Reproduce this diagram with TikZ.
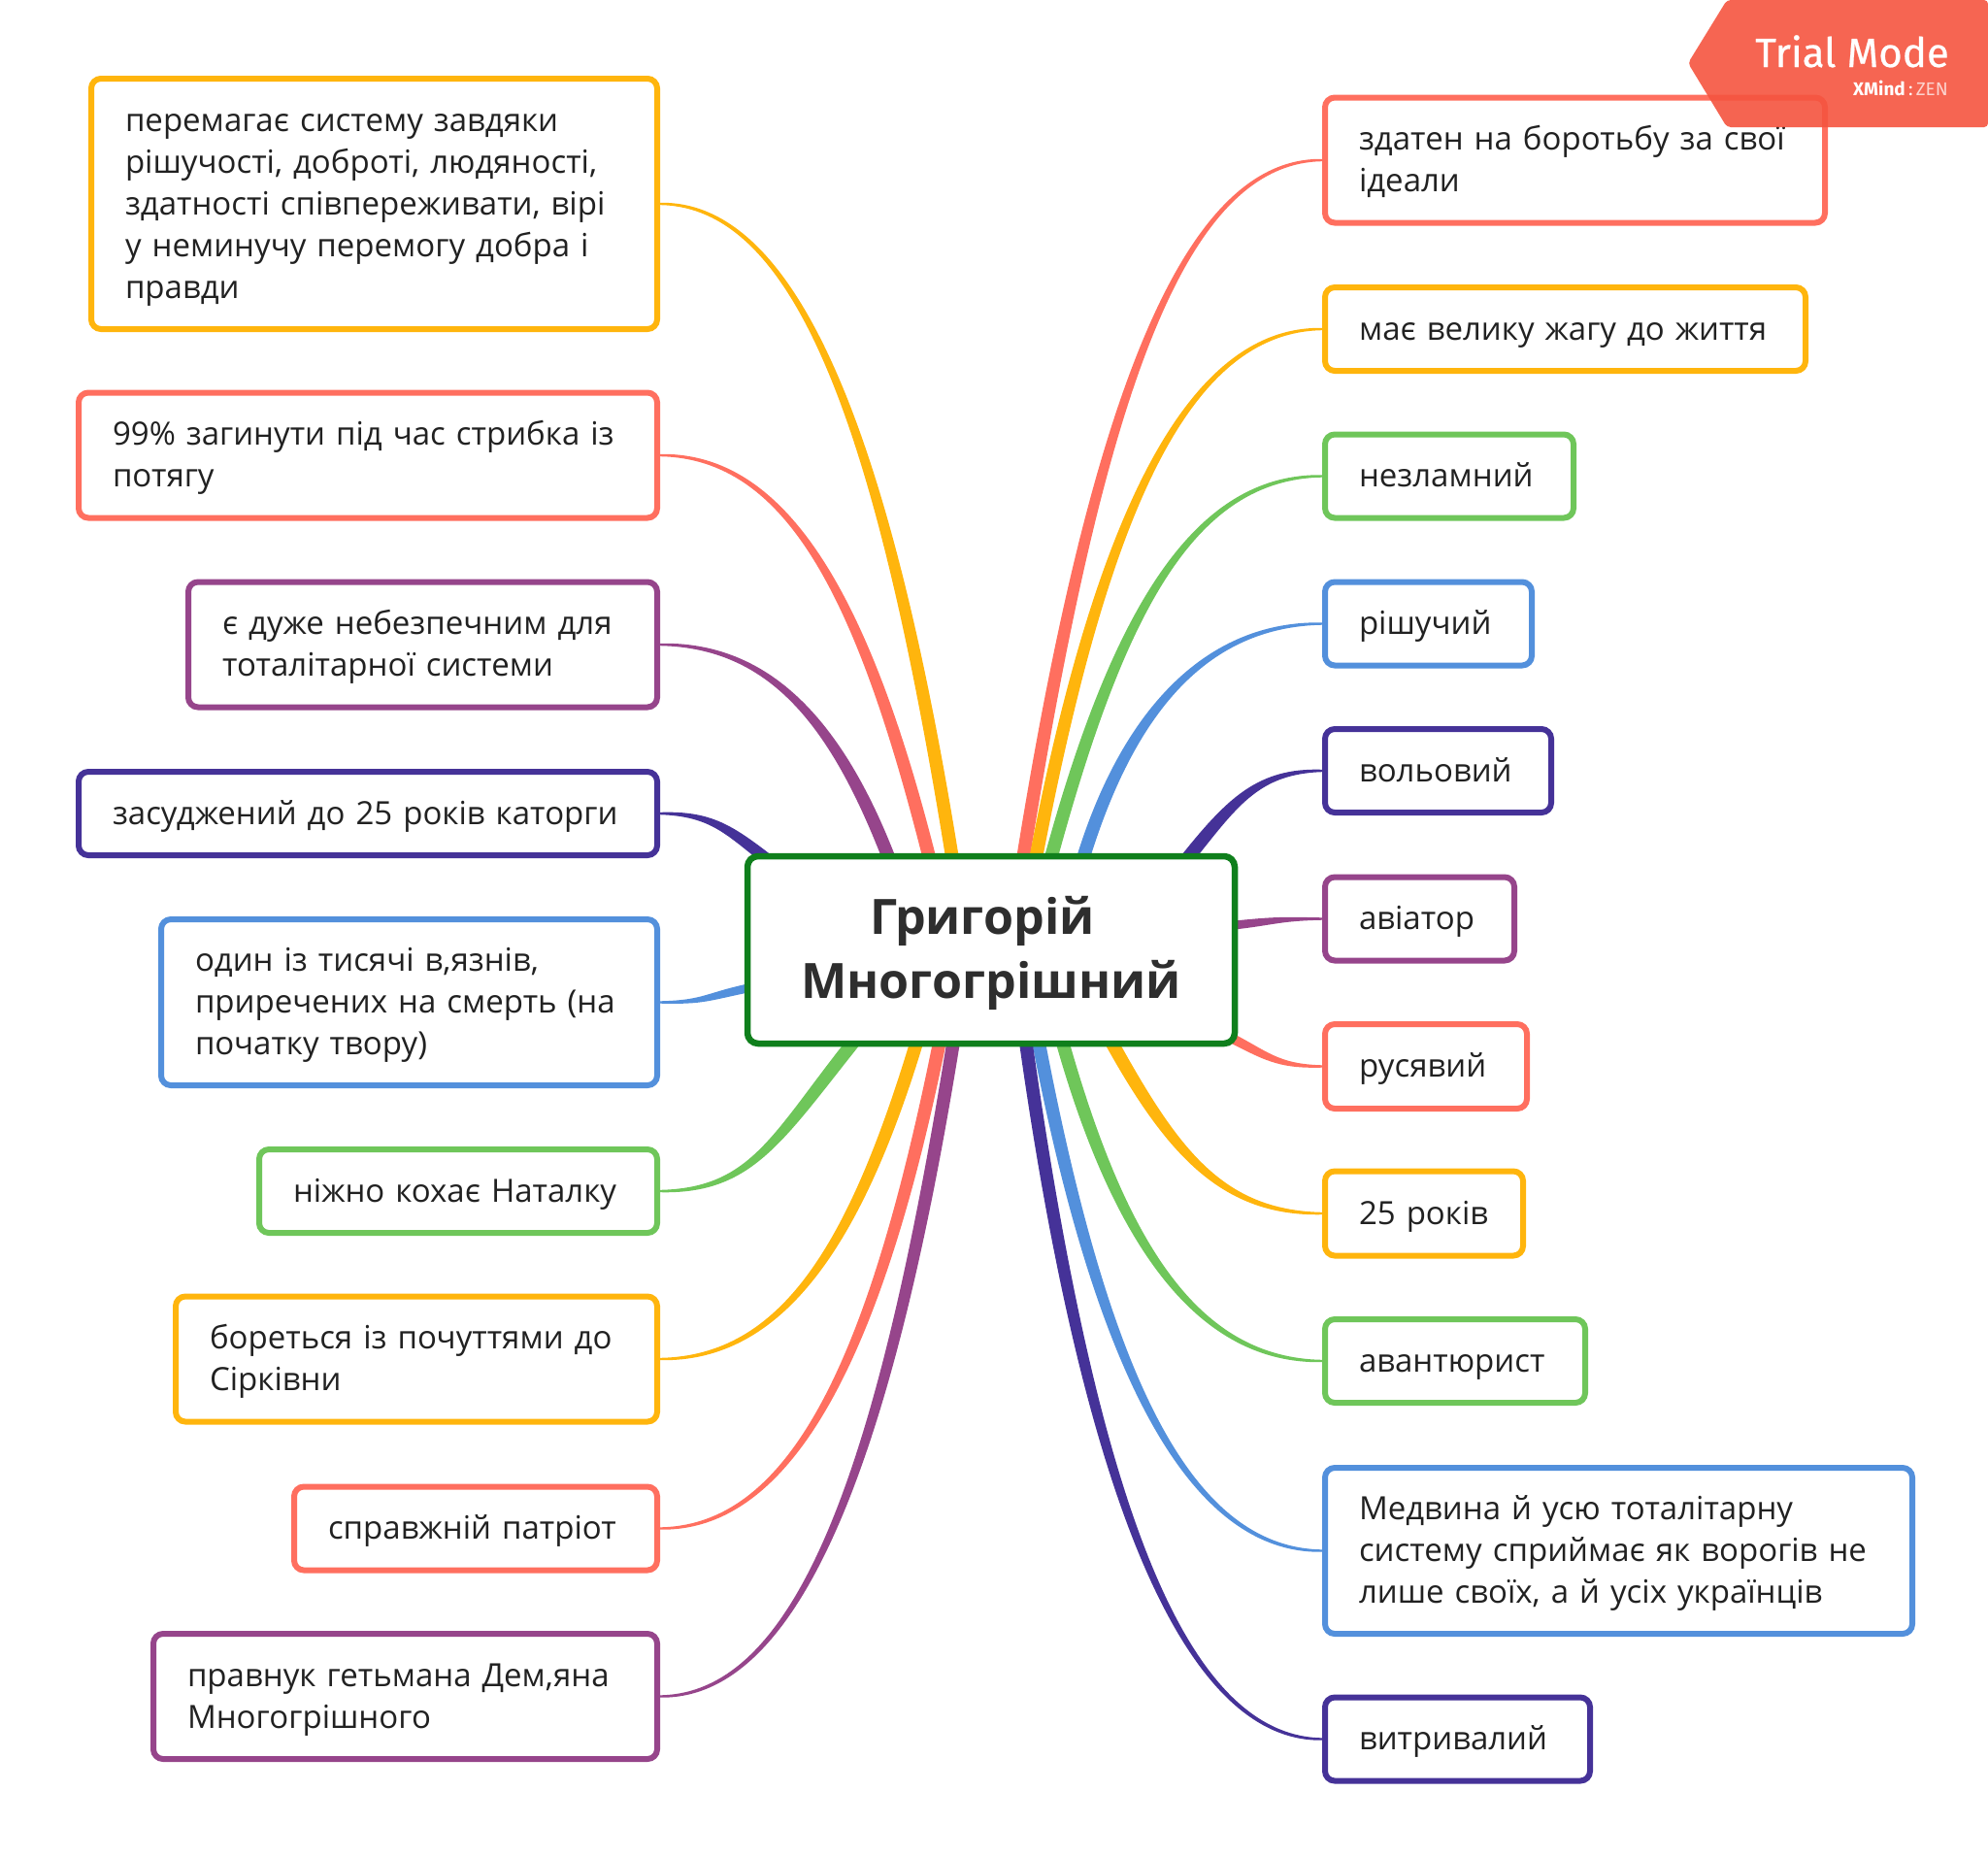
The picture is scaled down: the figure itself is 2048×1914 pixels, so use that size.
\documentclass[tikz,border=0pt]{standalone}
\usepackage{fontspec}
\setmainfont{Open Sans}
\newfontfamily\trialfont{Fira Sans}[FakeBold=0.5]
\newfontfamily\zenfont{Fira Sans}
\usetikzlibrary{backgrounds,calc}

\definecolor{cyellow}{HTML}{FFB50D}
\definecolor{cred}{HTML}{FF6F5F}
\definecolor{cpurple}{HTML}{96458B}
\definecolor{cindigo}{HTML}{453298}
\definecolor{cblue}{HTML}{5390DC}
\definecolor{cgreen}{HTML}{6FC65A}
\definecolor{chub}{HTML}{0F7F1C}
\definecolor{cbadge}{HTML}{F5543F}

\tikzset{
	mapbox/.style={draw, rectangle, rounded corners=10pt, line width=6pt, fill=white, inner xsep=35pt, inner ysep=0pt, align=left, anchor=west, text=black!87, font=\fontsize{33}{43}\selectfont, execute at begin node=\rule{0pt}{35.2pt}, execute at end node=\strut},
	hubbox/.style={draw=chub, rectangle, rounded corners=11pt, line width=6.5pt, fill=white, inner sep=0pt, align=center, text width=460pt, text=black!82, font=\fontsize{50.2}{66}\selectfont\bfseries, execute at begin node=\rule{0pt}{54pt}, execute at end node=\strut}
}

% half width at the hub, colour, box anchor, hub point, tangent at the hub
\newcommand{\branch}[5][6.8]{
	\pgfmathsetmacro{\wx}{#1/sqrt(1+(#5)*(#5))}
	\pgfmathsetmacro{\wy}{-(#5)*\wx}
	\pgfmathsetmacro{\wc}{0.5*#1}
	\fill [#2] let \p1=(#3), \p2=(#4), \n1={\x1+0.47*(\x2-\x1)}, \n2={\x2+(#5)*0.65*(\y1-\y2)}, \n3={\y2+0.65*(\y1-\y2)}, \n4={-sign(\x1-\x2)*sign(\y1-\y2)*1pt} in
		(\x1,{\y1+1.2*\n4}) .. controls (\n1,{\y1+\wc*\n4}) and ({\n2+\wx*1pt},{\n3+\wy*1pt}) .. ({\x2+\wx*1pt},{\y2+\wy*1pt})
		-- ({\x2-\wx*1pt},{\y2-\wy*1pt}) .. controls ({\n2-\wx*1pt},{\n3-\wy*1pt}) and (\n1,{\y1-\wc*\n4}) .. (\x1,{\y1-1.2*\n4}) -- cycle;
}

\begin{document}
\begin{tikzpicture}[x=1pt, y=-1pt]
	\useasboundingbox (0,0) rectangle (2048,1914);
	
	% centre
	\node [hubbox, minimum width=502pt, minimum height=193pt] (hub) at (1021,978.5) {Григорій\rule{18pt}{0pt}\\ Многогрішний};
	
	% right side boxes
	\node [mapbox, draw=cred, text width=445pt, minimum height=129pt] (ideals) at (1362,165) {здатен на боротьбу за свої\\ ідеали};
	\node [mapbox, draw=cyellow, text width=425pt, minimum height=86pt] (life) at (1362,339) {має велику жагу до життя};
	\node [mapbox, draw=cgreen, text width=186pt, minimum height=86pt] (unbroken) at (1362,490.5) {незламний};
	\node [mapbox, draw=cblue, text width=143pt, minimum height=86pt] (resolute) at (1362,642.5) {рішучий};
	\node [mapbox, draw=cindigo, text width=163pt, minimum height=86pt] (free) at (1362,794) {вольовий};
	\node [mapbox, draw=cpurple, text width=125pt, minimum height=86pt] (pilot) at (1362,946.5) {авіатор};
	\node [mapbox, draw=cred, text width=138pt, minimum height=87pt] (blond) at (1362,1098.5) {русявий};
	\node [mapbox, draw=cyellow, text width=134pt, minimum height=87pt] (age) at (1362,1250) {25 років};
	\node [mapbox, draw=cgreen, text width=198pt, minimum height=86pt] (venture) at (1362,1402) {авантюрист};
	\node [mapbox, draw=cblue, text width=535pt, minimum height=171pt] (enemies) at (1362,1597.5) {Медвина й усю тоталітарну\\ систему сприймає як ворогів не\\ лише своїх, а й усіх українців};
	\node [mapbox, draw=cindigo, text width=203pt, minimum height=86pt] (hardy) at (1362,1791.5) {витривалий};
	
	% left side boxes
	\node [mapbox, draw=cyellow, text width=513pt, minimum height=258pt] (system) at (91,210) {перемагає систему завдяки\\ рішучості, доброті, людяності,\\ здатності співпереживати, вірі\\ у неминучу перемогу добра і\\ правди};
	\node [mapbox, draw=cred, text width=526pt, minimum height=129pt] (jump) at (78,469) {99\% загинути під час стрибка із\\ потягу};
	\node [mapbox, draw=cpurple, text width=413pt, minimum height=129pt] (danger) at (191,664) {є дуже небезпечним для\\ тоталітарної системи};
	\node [mapbox, draw=cindigo, text width=526pt, minimum height=86pt] (sentence) at (78,838) {засуджений до 25 років каторги};
	\node [mapbox, draw=cblue, text width=441pt, minimum height=171pt] (prisoner) at (163,1032.5) {один із тисячі в,язнів,\\ приречених на смерть (на\\ початку твору)};
	\node [mapbox, draw=cgreen, text width=340pt, minimum height=86pt] (natalka) at (264,1227) {ніжно кохає Наталку};
	\node [mapbox, draw=cyellow, text width=426pt, minimum height=129pt] (feelings) at (178,1400) {бореться із почуттями до\\ Сірківни};
	\node [mapbox, draw=cred, text width=304pt, minimum height=86pt] (patriot) at (300,1574.5) {справжній патріот};
	\node [mapbox, draw=cpurple, text width=449pt, minimum height=129pt] (hetman) at (155,1747.5) {правнук гетьмана Дем,яна\\ Многогрішного};
	
	% points behind the hub
	\coordinate (hideals) at (1053,890);
	\coordinate (hlife) at (1066,890);
	\coordinate (hunbroken) at (1081,890);
	\coordinate (hresolute) at (1114,890);
	\coordinate (hfree) at (1221,887);
	\coordinate (hpilot) at (1262,954);
	\coordinate (hblond) at (1262,1066);
	\coordinate (hage) at (1142,1068);
	\coordinate (hventure) at (1093,1068);
	\coordinate (henemies) at (1069,1068);
	\coordinate (hhardy) at (1056,1068);
	\coordinate (hhetman) at (983,1068);
	\coordinate (hpatriot) at (969,1068);
	\coordinate (hfeelings) at (946,1068);
	\coordinate (hnatalka) at (882,1070);
	\coordinate (hprisoner) at (780,1016);
	\coordinate (hsentence) at (794,888);
	\coordinate (hdanger) at (918,890);
	\coordinate (hjump) at (959,890);
	\coordinate (hsystem) at (982,890);
	
	\begin{pgfonlayer}{background}
		% right side branches
		\branch{cred}{ideals.west}{hideals}{0.16}
		\branch{cyellow}{life.west}{hlife}{0.19}
		\branch{cgreen}{unbroken.west}{hunbroken}{0.27}
		\branch{cblue}{resolute.west}{hresolute}{0.3}
		\branch{cindigo}{free.west}{hfree}{0.8}
		\branch[4.5]{cpurple}{pilot.west}{hpilot}{10}
		\branch[5]{cred}{blond.west}{hblond}{-2}
		\branch{cyellow}{age.west}{hage}{-0.55}
		\branch{cgreen}{venture.west}{hventure}{-0.28}
		\branch{cblue}{enemies.west}{henemies}{-0.19}
		\branch{cindigo}{hardy.west}{hhardy}{-0.14}
		
		% left side branches
		\branch{cpurple}{hetman.east}{hhetman}{0.16}
		\branch{cred}{patriot.east}{hpatriot}{0.2}
		\branch{cyellow}{feelings.east}{hfeelings}{0.3}
		\branch{cgreen}{natalka.east}{hnatalka}{0.8}
		\branch[4.5]{cblue}{prisoner.east}{hprisoner}{5}
		\branch[6]{cindigo}{sentence.east}{hsentence}{-1.3}
		\branch{cpurple}{danger.east}{hdanger}{-0.38}
		\branch{cred}{jump.east}{hjump}{-0.25}
		\branch{cyellow}{system.east}{hsystem}{-0.16}
	\end{pgfonlayer}
	
	% trial badge
	\fill [cbadge, fill opacity=0.9, rounded corners=4pt] (1739,65) -- (1779,0) -- (2048,0) -- (2048,131) -- (1779,131) -- cycle;
	\node [anchor=base east, inner sep=0pt, text=white, font=\trialfont\fontsize{42}{42}\selectfont] (trial) at (2008,69) {Trial Mode};
	\node [anchor=base east, inner sep=0pt, text=white, font=\zenfont\fontsize{19}{19}\selectfont] (zen) at (2007,98) {\textbf{XMind}\,:\,\textcolor{white!75!cbadge}{ZEN}};
\end{tikzpicture}
\end{document}
